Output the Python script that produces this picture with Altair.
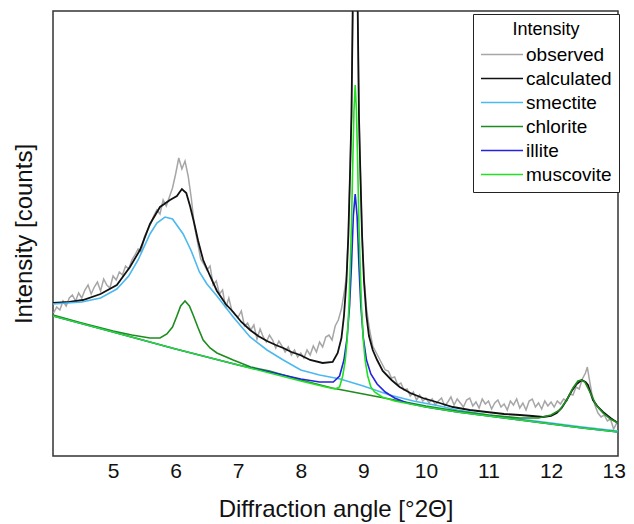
import altair as alt
import pandas as pd

# ---------------- data (intensity in arbitrary counts) -------------
obs_x = [4.05, 4.10, 4.15, 4.20, 4.25, 4.30, 4.35, 4.40, 4.45, 4.50, 4.55, 4.60, 4.65, 4.70, 4.75,
         4.80, 4.85, 4.90, 4.95, 5.00,
         5.05, 5.10, 5.15, 5.20, 5.25, 5.30, 5.35, 5.40, 5.45, 5.50, 5.55, 5.60, 5.65, 5.70, 5.75,
         5.80, 5.85, 5.90, 5.95,
         6.00, 6.05, 6.10, 6.15, 6.20, 6.25, 6.30, 6.35, 6.40, 6.45,
         6.50, 6.55, 6.60, 6.65, 6.70, 6.75, 6.80, 6.85, 6.90, 6.95, 7.00, 7.05, 7.10, 7.15, 7.20,
         7.25, 7.30, 7.35, 7.40, 7.45,
         7.50, 7.55, 7.60, 7.65, 7.70, 7.75, 7.80, 7.85, 7.90, 7.95, 8.00, 8.05, 8.10, 8.15, 8.20,
         8.25, 8.30, 8.35, 8.40, 8.45, 8.50, 8.55, 8.60, 8.65, 8.70,
         8.73, 8.76, 8.79, 8.81, 8.83, 8.85, 8.87, 8.89, 8.91, 8.93, 8.95, 8.98, 9.01,
         9.05, 9.10, 9.15, 9.20, 9.25, 9.30, 9.35, 9.40, 9.45, 9.50, 9.55, 9.60, 9.65, 9.70, 9.75,
         9.80, 9.85, 9.90, 9.95, 10.00,
         10.05, 10.10, 10.15, 10.20, 10.25, 10.30, 10.35, 10.40, 10.45, 10.50, 10.55, 10.60, 10.65,
         10.70, 10.75, 10.80, 10.85, 10.90, 10.95, 11.00, 11.05, 11.10, 11.15, 11.20, 11.25, 11.30,
         11.35, 11.40, 11.45, 11.50, 11.55, 11.60, 11.65, 11.70, 11.75, 11.80, 11.85, 11.90, 11.95,
         12.00,
         12.05, 12.10, 12.15, 12.20, 12.25, 12.30, 12.35, 12.40, 12.45, 12.50, 12.55, 12.58, 12.60,
         12.65, 12.70, 12.75, 12.80, 12.85, 12.90, 12.95, 13.00, 13.05]
obs_y = [143, 149, 146, 155, 150, 158, 161, 155, 163, 158, 166, 171, 162, 169, 174,
         165, 177, 171, 168, 180,
         176, 184, 181, 190, 187, 196, 201, 207, 204, 219, 226, 232, 240, 246, 242,
         256, 250, 259, 268,
         282, 298, 287, 295, 280, 258, 230, 214, 197, 192,
         186, 190, 171, 175, 162, 166, 148, 158, 145, 141, 139, 145, 130, 133, 126,
         131, 117, 127, 119, 114,
         121, 116, 108, 115, 110, 104, 109, 101, 106, 99, 103, 98, 106, 101, 110,
         104, 114, 109, 119, 121, 116, 130, 136, 147, 166,
         180, 220, 289, 340, 445, 560, 620, 560, 445, 340, 289, 220, 180,
         148, 126, 110, 104, 98, 92, 86, 85, 78, 79, 71, 73, 66, 67, 60,
         64, 56, 61, 55, 58,
         53, 57, 51, 55, 58, 50, 54, 59, 51, 57, 53, 49, 56,
         58, 50, 54, 48, 57, 52, 55, 47, 53, 56, 49, 52, 46,
         55, 51, 57, 48, 53, 46, 55, 57, 49, 53, 47, 55, 50,
         54,
         49, 55, 52, 57, 55, 62, 61, 69, 67, 77, 83, 89, 81,
         63, 51, 43, 39, 41, 35, 37, 27, 33]

calc_x = [4.04, 4.30, 4.52, 4.80, 5.06, 5.27, 5.43, 5.59, 5.75, 5.91, 6.02, 6.10, 6.17, 6.23,
          6.30, 6.36, 6.44, 6.55, 6.66, 6.80, 6.92, 7.05, 7.19, 7.32, 7.46, 7.60, 7.72, 7.85,
          7.99, 8.15, 8.35, 8.51, 8.59, 8.65, 8.69, 8.73, 8.76, 8.79, 8.81, 8.83, 8.85, 8.87,
          8.89, 8.91, 8.93, 8.95, 8.98, 9.01, 9.05, 9.09, 9.15, 9.22, 9.31, 9.45, 9.58, 9.75,
          9.95, 10.22, 10.43, 10.70, 10.97, 11.25, 11.50, 11.70, 11.87, 12.00, 12.09, 12.17,
          12.25, 12.33, 12.41, 12.49, 12.55, 12.59, 12.67, 12.75, 12.83, 12.95, 13.07]
calc_y = [153, 154, 156, 162, 171, 189, 206, 232, 249, 256, 260, 267, 263, 250,
          232, 215, 196, 180, 165, 152, 144, 134, 126, 120, 115, 111, 108, 104,
          101, 96, 93, 94, 103, 118, 140, 175, 220, 289, 340, 445, 560, 620,
          560, 445, 340, 289, 220, 175, 140, 120, 106, 96, 85, 76, 69, 63,
          58, 53, 49, 46, 44, 42, 41, 40, 39, 40, 43, 48,
          56, 65, 72, 76, 74, 71, 56, 49, 44, 38, 33]

smec_x = [4.04, 4.50, 4.80, 5.06, 5.25, 5.40, 5.59, 5.70, 5.83, 5.95, 6.12, 6.25, 6.38, 6.50,
          6.66, 6.92, 7.19, 7.46, 7.72, 8.00, 8.30, 8.63, 9.00, 9.42, 9.80, 10.22, 10.50, 11.00,
          11.50, 12.00, 12.50, 13.07]
smec_y = [152, 154, 158, 167, 180, 196, 222, 233, 239, 237, 222, 205, 184, 172,
          160, 139, 119, 106, 96, 86, 81, 77, 70, 61, 55, 50, 46, 41,
          37, 33, 29, 25]

chlo_x = [4.04, 4.50, 5.00, 5.30, 5.59, 5.75, 5.86, 5.95, 6.02, 6.08, 6.15, 6.22, 6.28, 6.36,
          6.44, 6.55, 6.66, 6.92, 7.20, 7.50, 8.00, 8.50, 9.00, 9.50, 10.00, 10.50, 11.00, 11.50,
          11.80, 12.00, 12.14, 12.25, 12.35, 12.43, 12.48, 12.54, 12.62, 12.72, 12.83, 12.95, 13.07]
chlo_y = [141, 133, 125, 121, 118, 118, 122, 129, 140, 150, 155, 150, 141, 128,
          116, 108, 103, 96, 89, 85, 76, 68, 62, 56, 50, 45, 41, 38,
          38, 41, 46, 56, 68, 75, 76, 74, 64, 51, 43, 37, 33]

illi_x = [4.04, 5.00, 6.00, 7.00, 7.50, 8.00, 8.30, 8.52, 8.62, 8.69, 8.74, 8.78, 8.81, 8.84,
          8.87, 8.90, 8.93, 8.96, 9.00, 9.05, 9.12, 9.22, 9.35, 9.50, 9.70, 10.00, 10.50, 11.00,
          11.50, 12.00, 12.50, 13.07]
illi_y = [140, 124, 107, 91, 84, 77, 74, 74, 80, 96, 118, 150, 190, 240,
          262, 240, 190, 150, 118, 96, 82, 72, 64, 58, 53, 49, 44, 40,
          36, 32, 28, 24]

musc_x = [4.04, 5.00, 6.00, 7.00, 8.00, 8.40, 8.55, 8.62, 8.67, 8.71, 8.74, 8.77, 8.79, 8.81,
          8.83, 8.85, 8.87, 8.89, 8.91, 8.93, 8.95, 8.97, 9.00, 9.03, 9.07, 9.12, 9.18, 9.30,
          9.50, 10.00, 10.50, 11.00, 11.50, 12.00, 12.50, 13.07]
musc_y = [140, 124, 107, 91, 75, 69, 67, 69, 80, 95, 115, 150, 189, 230,
          290, 345, 371, 345, 290, 230, 189, 150, 115, 95, 80, 69, 64, 59,
          55, 49, 44, 40, 36, 32, 28, 24]

series_names = ["observed", "calculated", "smectite", "chlorite", "illite", "muscovite"]
series_colors = ["#a6a6a6", "#111111", "#4cb8f0", "#1e8c1e", "#2323e0", "#22e022"]
series_widths = [1.5, 1.8, 1.6, 1.6, 1.6, 1.6]

xs = [obs_x, calc_x, smec_x, chlo_x, illi_x, musc_x]
ys = [obs_y, calc_y, smec_y, chlo_y, illi_y, musc_y]

frames = []
for name, xv, yv in zip(series_names, xs, ys):
    assert len(xv) == len(yv), name
    frames.append(pd.DataFrame({"angle": xv, "intensity": yv, "series": name}))
df = pd.concat(frames, ignore_index=True)

FONT = "Liberation Sans"

x_enc = alt.X("angle:Q",
              scale=alt.Scale(domain=[4.04, 13.07], nice=False, zero=False),
              axis=alt.Axis(values=[5, 6, 7, 8, 9, 10, 11, 12, 13], format="d",
                            ticks=False, domain=False, grid=False,
                            labelFontSize=21, labelPadding=4, labelColor="#111",
                            title="Diffraction angle [°2Θ]", titleFontSize=24,
                            titleFontWeight="normal", titlePadding=16, titleColor="#111"))
y_enc = alt.Y("intensity:Q",
              scale=alt.Scale(domain=[0, 445], nice=False, zero=False),
              axis=alt.Axis(labels=False, ticks=False, domain=False, grid=False,
                            title="Intensity [counts]", titleFontSize=24,
                            titleFontWeight="normal", titlePadding=17, titleColor="#111"))
color_enc = alt.Color("series:N",
                      scale=alt.Scale(domain=series_names, range=series_colors),
                      legend=alt.Legend(title="Intensity", orient="none", legendX=420, legendY=3,
                                        titleFontSize=18, titleFontWeight="normal",
                                        titleAnchor="middle", titlePadding=6,
                                        labelFontSize=19, labelOffset=2,
                                        symbolType="stroke", symbolSize=1764,
                                        symbolStrokeWidth=1.5, clipHeight=19,
                                        rowPadding=4, padding=7,
                                        strokeColor="#222", fillColor="white"))

layers = []
for name, w in zip(series_names, series_widths):
    layers.append(
        alt.Chart(df)
        .transform_filter(alt.datum.series == name)
        .mark_line(clip=True, strokeWidth=w)
        .encode(x=x_enc, y=y_enc, color=color_enc, order="angle:Q")
    )

chart = (
    alt.layer(*layers)
    .properties(width=565, height=445,
                padding={"left": 45, "top": 3, "right": 8, "bottom": 66},
                autosize=alt.AutoSizeParams(type="none"))
    .configure(font=FONT)
    .configure_view(stroke="#333", strokeWidth=1.5)
)

chart.save("out.html", embed_options={"renderer": "svg", "actions": False})
